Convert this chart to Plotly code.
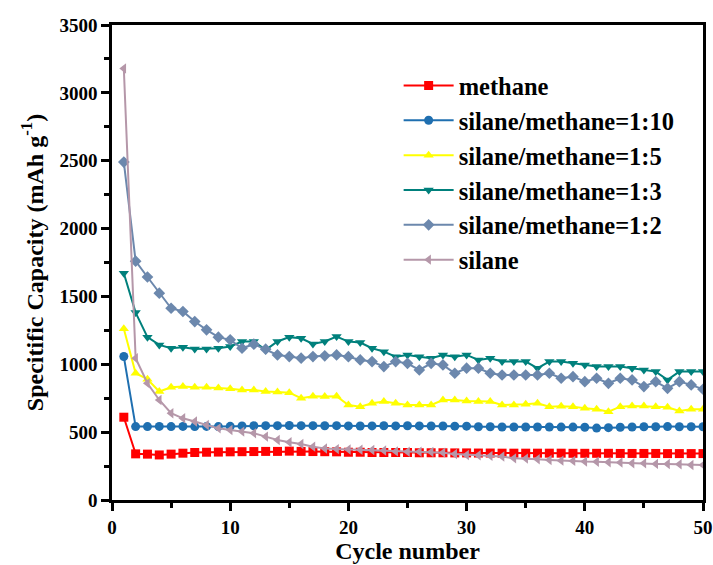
import plotly.graph_objects as go

cycles = list(range(1, 51))

methane = [610, 340, 338, 332, 338, 345, 350, 352, 353, 355,
           356, 357, 358, 358, 360, 358, 357, 356, 355, 352,
           352, 350, 350, 350, 350, 348, 348, 348, 347, 347,
           346, 346, 345, 345, 345, 345, 345, 345, 344, 344,
           344, 344, 343, 343, 343, 343, 342, 342, 342, 342]

ratio_1_10 = [1057, 541, 541, 542, 541, 542, 541, 542, 541, 543,
              546, 547, 548, 548, 549, 548, 548, 547, 548, 546,
              545, 546, 547, 546, 547, 546, 545, 545, 544, 544,
              540, 540, 538, 538, 538, 538, 538, 537, 537, 536,
              530, 533, 536, 538, 540, 540, 541, 540, 540, 540]

ratio_1_5 = [1261, 934, 890, 799, 831, 836, 831, 831, 826, 820,
             811, 811, 800, 795, 791, 750, 765, 762, 765, 700,
             688, 713, 725, 713, 700, 700, 700, 737, 737, 730,
             725, 725, 700, 700, 705, 713, 688, 690, 688, 676,
             668, 651, 688, 693, 693, 688, 683, 656, 668, 668]

ratio_1_3 = [1671, 1381, 1200, 1143, 1118, 1126, 1113, 1113, 1118, 1131,
             1168, 1168, 1106, 1168, 1200, 1192, 1150, 1168, 1204, 1167,
             1160, 1118, 1093, 1056, 1069, 1056, 1044, 1069, 1056, 1069,
             1032, 1044, 1020, 1020, 1020, 971, 1020, 1020, 1007, 995,
             983, 983, 983, 971, 958, 946, 885, 946, 946, 946]

ratio_1_2 = [2490, 1760, 1643, 1524, 1413, 1389, 1315, 1254, 1200, 1180,
             1118, 1148, 1111, 1069, 1057, 1045, 1057, 1062, 1069, 1056,
             1032, 1020, 983, 1020, 1007, 958, 1007, 995, 934, 971,
             971, 934, 921, 921, 921, 921, 934, 897, 909, 872,
             897, 860, 897, 885, 836, 872, 823, 872, 848, 816]

silane = [3180, 1045, 860, 737, 639, 602, 578, 553, 528, 516,
          504, 492, 467, 442, 425, 413, 393, 380, 375, 372,
          370, 368, 365, 358, 356, 356, 354, 349, 339, 332,
          330, 325, 320, 307, 305, 300, 295, 290, 288, 283,
          282, 278, 276, 271, 270, 266, 265, 263, 258, 258]

series = [
    ("methane", methane, "#FF0000", "square"),
    ("silane/methane=1:10", ratio_1_10, "#1F6FB0", "circle"),
    ("silane/methane=1:5", ratio_1_5, "#FFFF00", "triangle-up"),
    ("silane/methane=1:3", ratio_1_3, "#00807C", "triangle-down"),
    ("silane/methane=1:2", ratio_1_2, "#6C88AD", "diamond"),
    ("silane", silane, "#B597A9", "triangle-left"),
]

FONT = "Liberation Serif"

fig = go.Figure()
for i, (name, vals, color, sym) in enumerate(series):
    fig.add_trace(go.Scatter(
        x=cycles, y=vals, name=name, mode="lines+markers",
        legendgroup=f"g{i}",
        line=dict(color=color, width=2),
        marker=dict(symbol=sym, size=9, color=color),
    ))

axis_common = dict(
    showline=True, linecolor="black", linewidth=2.5, mirror=True,
    ticks="outside", ticklen=8, tickwidth=2.5, tickcolor="black",
    showgrid=False, zeroline=False, automargin=False,
    tickfont=dict(family=FONT, size=19, color="black", weight="bold"),
)

fig.update_xaxes(
    range=[0, 50], dtick=10, tick0=0,
    minor=dict(ticks="outside", ticklen=5, tickwidth=2.5, dtick=5, tickcolor="black"),
    title=dict(text="Cycle number", font=dict(family=FONT, size=24, color="black", weight="bold"), standoff=6),
    **axis_common,
)
fig.update_yaxes(
    range=[0, 3500], dtick=500, tick0=0,
    minor=dict(ticks="outside", ticklen=5, tickwidth=2.5, dtick=250, tickcolor="black"),
    title=dict(text="Specitific Capacity (mAh g<sup>-1</sup>)", font=dict(family=FONT, size=24, color="black", weight="bold"), standoff=10),
    **axis_common,
)

fig.update_layout(
    width=713, height=565,
    margin=dict(l=112, r=10, t=25, b=65),
    paper_bgcolor="white", plot_bgcolor="white",
    legend=dict(
        x=0.485, y=0.92, xanchor="left", yanchor="top",
        font=dict(family=FONT, size=24.5, color="black", weight="bold"),
        bgcolor="rgba(0,0,0,0)", borderwidth=0,
        tracegroupgap=0, itemwidth=50,
    ),
)

fig.write_html("out.html")
